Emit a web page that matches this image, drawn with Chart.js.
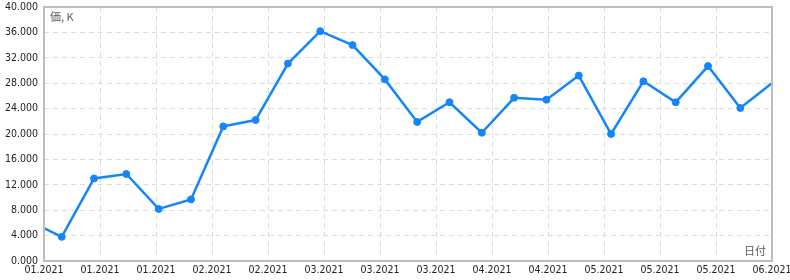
<!DOCTYPE html>
<html>
<head>
<meta charset="utf-8">
<script src="https://cdn.jsdelivr.net/npm/chart.js@4/dist/chart.umd.min.js"></script>
<style>
  html, body { margin: 0; padding: 0; background: #fff; }
  #wrap { width: 790px; height: 280px; }
</style>
</head>
<body>
<div id="wrap"><canvas id="chart" width="790" height="280"></canvas></div>
<script>
// days from first visible weekly point; first and last lie outside the axis and are clipped
const dayOffsets = [-7, 0, 7, 14, 21, 28, 35, 42, 49, 56, 63, 70, 77, 84, 91, 98, 105, 112, 119, 126, 133, 140, 147, 157];
const prices = [6300, 3800, 13000, 13700, 8200, 9700, 21200, 22200, 31100, 36200, 34000, 28600, 21900, 25000, 20200, 25700, 25400, 29200, 20000, 28300, 25000, 30700, 24100, 29800];
const xTickLabels = ["01.2021", "01.2021", "01.2021", "02.2021", "02.2021", "03.2021", "03.2021", "03.2021", "04.2021", "04.2021", "05.2021", "05.2021", "05.2021", "06.2021"];
const yTitle = "価, K";
const xTitle = "日付";

const X_MIN = -3.84;
const X_MAX = 153.86;
const LINE_COLOR = "#1686f7";
const FONT = '"DejaVu Sans Condensed", "Liberation Sans", sans-serif';

const framePlugin = {
  id: "frame",
  afterDraw(chart) {
    const { ctx, chartArea: a } = chart;
    ctx.save();
    ctx.strokeStyle = "#bdbdbd";
    ctx.lineWidth = 2;
    ctx.strokeRect(a.left, a.top, a.right - a.left, a.bottom - a.top);
    ctx.font = '11px "Noto Sans CJK JP", sans-serif';
    ctx.fillStyle = "#5a5a5a";
    ctx.textBaseline = "middle";
    ctx.textAlign = "left";
    ctx.fillText(yTitle, a.left + 6, a.top + 10);
    ctx.textAlign = "right";
    ctx.fillText(xTitle, a.right - 6, a.bottom - 10);
    ctx.restore();
  },
};

const ctx = document.getElementById("chart").getContext("2d");
new Chart(ctx, {
  type: "line",
  data: {
    datasets: [
      {
        data: dayOffsets.map((d, i) => ({ x: d, y: prices[i] })),
        borderColor: LINE_COLOR,
        backgroundColor: LINE_COLOR,
        pointBackgroundColor: LINE_COLOR,
        pointBorderColor: LINE_COLOR,
        borderWidth: 2.5,
        pointRadius: 3.5,
        pointBorderWidth: 1,
        tension: 0,
        fill: false,
        clip: 0,
      },
    ],
  },
  options: {
    responsive: false,
    animation: false,
    layout: { padding: { top: 7, right: 18, left: 0, bottom: 0 } },
    plugins: {
      legend: { display: false },
      tooltip: { enabled: false },
    },
    scales: {
      x: {
        type: "linear",
        min: X_MIN,
        max: X_MAX,
        afterBuildTicks(scale) {
          scale.ticks = xTickLabels.map((_, i) => ({
            value: X_MIN + (i * (X_MAX - X_MIN)) / (xTickLabels.length - 1),
          }));
        },
        afterFit(scale) {
          scale.height = 19;
          scale.paddingLeft = 0;
          scale.paddingRight = 0;
        },
        ticks: {
          autoSkip: false,
          maxRotation: 0,
          padding: 3,
          color: "#222",
          font: { family: FONT, size: 10.5 },
          callback: (v, i) => xTickLabels[i],
        },
        grid: {
          color: "#dcdcdc",
          lineWidth: 1,
          drawTicks: false,
        },
        border: { display: false, dash: [5, 4] },
      },
      y: {
        min: 0,
        max: 40000,
        afterFit(scale) {
          scale.width = 44;
          scale.paddingTop = 0;
          scale.paddingBottom = 0;
        },
        ticks: {
          stepSize: 4000,
          padding: 6,
          color: "#222",
          font: { family: FONT, size: 10.5 },
          callback: (v) => (v / 1000).toFixed(3),
        },
        grid: {
          color: "#dcdcdc",
          lineWidth: 1,
          drawTicks: false,
        },
        border: { display: false, dash: [5, 4] },
      },
    },
  },
  plugins: [framePlugin],
});
</script>
</body>
</html>
